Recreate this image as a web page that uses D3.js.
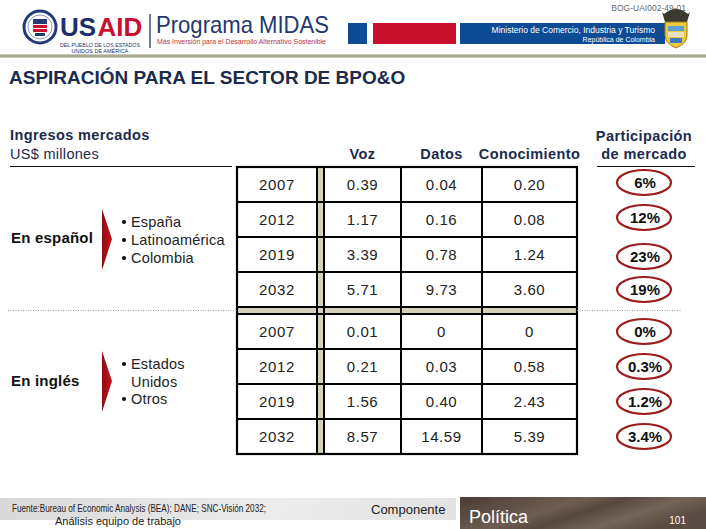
<!DOCTYPE html>
<html>
<head>
<meta charset="utf-8">
<script src="https://cdn.jsdelivr.net/npm/d3@7"></script>
<style>
  html, body { margin: 0; padding: 0; background: #ffffff; }
  svg { display: block; font-family: "Liberation Sans", Arial, sans-serif; }
</style>
</head>
<body>
<svg id="chart" width="706" height="529"></svg>
<script>
// ---------------- DATA ----------------
const years = ["2007", "2012", "2019", "2032"];
const columns = ["Voz", "Datos", "Conocimiento"];
const segments = ["En español", "En inglés"];

const vozEspanol = [0.39, 1.17, 3.39, 5.71];
const datosEspanol = [0.04, 0.16, 0.78, 9.73];
const conocimientoEspanol = [0.20, 0.08, 1.24, 3.60];
const shareEspanol = ["6%", "12%", "23%", "19%"];

const vozIngles = [0.01, 0.21, 1.56, 8.57];
const datosIngles = [0, 0.03, 0.40, 14.59];
const conocimientoIngles = [0, 0.58, 2.43, 5.39];
const shareIngles = ["0%", "0.3%", "1.2%", "3.4%"];

const marketsEspanol = ["España", "Latinoamérica", "Colombia"];
const marketsIngles = [["Estados", "Unidos"], ["Otros"]];

// ---------------- SETUP ----------------
const svg = d3.select("#chart");
const navy = "#1b2a4e";
const tan = "#d5d1b9";
const ring = "#9b1d1d";
const fmt = v => v === 0 ? "0" : d3.format(".2f")(v);

const defs = svg.append("defs");
const gArrow = defs.append("linearGradient").attr("id", "arrowGrad").attr("x1", 0).attr("x2", 1);
gArrow.append("stop").attr("offset", "0%").attr("stop-color", "#8e0c12");
gArrow.append("stop").attr("offset", "100%").attr("stop-color", "#c8151f");
const gFoot = defs.append("linearGradient").attr("id", "footGrad").attr("x1", 0).attr("x2", 1);
gFoot.append("stop").attr("offset", "0%").attr("stop-color", "#d9d9d9");
gFoot.append("stop").attr("offset", "60%").attr("stop-color", "#ececec");
gFoot.append("stop").attr("offset", "100%").attr("stop-color", "#e2e2e2");
const gPol = defs.append("linearGradient").attr("id", "polGrad").attr("x1", 0).attr("x2", 1).attr("y1", 0).attr("y2", 0.4);
[["0%", "#4a3d36"], ["25%", "#5e4f46"], ["45%", "#6d5d52"], ["60%", "#56483f"], ["80%", "#74655a"], ["100%", "#5a4c43"]]
  .forEach(([o, c]) => gPol.append("stop").attr("offset", o).attr("stop-color", c));
const gLine = defs.append("linearGradient").attr("id", "lineGrad").attr("x1", 0).attr("x2", 0).attr("y1", 0).attr("y2", 1);
gLine.append("stop").attr("offset", "0%").attr("stop-color", "#d8d6c6");
gLine.append("stop").attr("offset", "50%").attr("stop-color", "#9c9a86");
gLine.append("stop").attr("offset", "100%").attr("stop-color", "#d8d6c6");

// ---------------- HEADER ----------------
const hdr = svg.append("g");
// seal
hdr.append("circle").attr("cx", 40).attr("cy", 27).attr("r", 16).attr("fill", "#fff").attr("stroke", "#233a78").attr("stroke-width", 3);
hdr.append("circle").attr("cx", 40).attr("cy", 27).attr("r", 12).attr("fill", "none").attr("stroke", "#8c9bc0").attr("stroke-width", 1);
hdr.append("rect").attr("x", 33).attr("y", 19).attr("width", 14).attr("height", 5).attr("fill", "#233a78");
hdr.append("rect").attr("x", 33).attr("y", 25).attr("width", 14).attr("height", 3).attr("fill", "#c8102e");
hdr.append("rect").attr("x", 33).attr("y", 29).attr("width", 14).attr("height", 3).attr("fill", "#c8102e");
hdr.append("rect").attr("x", 35).attr("y", 33).attr("width", 10).attr("height", 3).attr("fill", "#233a78");
// USAID
hdr.append("text").attr("x", 60).attr("y", 35.5).attr("font-size", 26).attr("font-weight", "bold").attr("fill", "#1f2f6e").text("US");
hdr.append("text").attr("x", 97.5).attr("y", 35.5).attr("font-size", 26).attr("font-weight", "bold").attr("fill", "#c8102e").text("AID");
hdr.append("text").attr("x", 100).attr("y", 47).attr("text-anchor", "middle").attr("font-size", 5.5).attr("fill", "#1f2f6e")
  .attr("textLength", 80).attr("lengthAdjust", "spacingAndGlyphs").text("DEL PUEBLO DE LOS ESTADOS");
hdr.append("text").attr("x", 100).attr("y", 52.5).attr("text-anchor", "middle").attr("font-size", 5.5).attr("fill", "#1f2f6e")
  .text("UNIDOS DE AMÉRICA");
hdr.append("line").attr("x1", 150).attr("x2", 150).attr("y1", 14).attr("y2", 48).attr("stroke", "#1f2f6e").attr("stroke-width", 1.3);
hdr.append("text").attr("x", 156).attr("y", 33).attr("font-size", 24).attr("fill", "#23376e")
  .attr("textLength", 173).attr("lengthAdjust", "spacingAndGlyphs").text("Programa MIDAS");
hdr.append("text").attr("x", 157).attr("y", 44).attr("font-size", 6.5).attr("fill", "#c0313a")
  .attr("textLength", 169).attr("lengthAdjust", "spacingAndGlyphs").text("Más Inversión para el Desarrollo Alternativo Sostenible");
// colour bars
hdr.append("rect").attr("x", 348).attr("y", 23).attr("width", 19).attr("height", 21).attr("fill", "#0e4b95");
hdr.append("rect").attr("x", 373).attr("y", 23).attr("width", 83).attr("height", 21).attr("fill", "#c8102e");
hdr.append("rect").attr("x", 460).attr("y", 23).attr("width", 205).attr("height", 21).attr("fill", "#0e4b95");
hdr.append("text").attr("x", 655).attr("y", 33).attr("text-anchor", "end").attr("font-size", 8.5).attr("fill", "#fff")
  .text("Ministerio de Comercio, Industria y Turismo");
hdr.append("text").attr("x", 655).attr("y", 42).attr("text-anchor", "end").attr("font-size", 7).attr("fill", "#fff")
  .text("República de Colombia");
hdr.append("text").attr("x", 686).attr("y", 11).attr("text-anchor", "end").attr("font-size", 8.5).attr("fill", "#6a6a6a")
  .text("BOG-UAI002-49-01");
// coat of arms (simplified)
hdr.append("path").attr("d", "M664,14 Q676,4 688,14 L690,12 L687,22 L665,22 L662,12 Z").attr("fill", "#3a3a30");
hdr.append("path").attr("d", "M665,22 L687,22 L687,36 Q686,44 676,48 Q666,44 665,36 Z")
  .attr("fill", "#f0c838").attr("stroke", "#9a7a18").attr("stroke-width", 1);
hdr.append("rect").attr("x", 668).attr("y", 26).attr("width", 16).attr("height", 5).attr("fill", "#5aa0d8");
hdr.append("rect").attr("x", 668).attr("y", 32).attr("width", 16).attr("height", 5).attr("fill", "#e8e0c0");
hdr.append("rect").attr("x", 670).attr("y", 38).attr("width", 12).attr("height", 5).attr("fill", "#3b7ac0");
// header rule
svg.append("rect").attr("x", 0).attr("y", 54).attr("width", 706).attr("height", 4).attr("fill", "url(#lineGrad)");

// ---------------- TITLE ----------------
svg.append("text").attr("x", 9).attr("y", 84).attr("font-size", 19).attr("font-weight", "bold").attr("fill", navy)
  .text("ASPIRACIÓN PARA EL SECTOR DE BPO&O");

// ---------------- TABLE SCALES ----------------
const tableLeft = 237, tableRight = 577;
const colKeys = ["year"].concat(columns);
const colLeft = d3.scaleOrdinal().domain(colKeys).range([237, 324, 401, 482]);
const colRight = d3.scaleOrdinal().domain(colKeys).range([317, 401, 482, 577]);
const colCenter = k => (colLeft(k) + colRight(k)) / 2;

const sectionRange = d3.scaleOrdinal().domain(segments).range([[167, 307], [314, 454]]);
const rowScale = seg => d3.scaleBand().domain(years).range(sectionRange(seg)).padding(0);

const sections = [
  { seg: "En español", cols: { Voz: vozEspanol, Datos: datosEspanol, Conocimiento: conocimientoEspanol }, share: shareEspanol },
  { seg: "En inglés", cols: { Voz: vozIngles, Datos: datosIngles, Conocimiento: conocimientoIngles }, share: shareIngles }
];

// ---------------- COLUMN HEADERS ----------------
const hdrText = svg.append("g").attr("font-size", 14.5).attr("font-weight", "bold").attr("fill", navy)
  .attr("letter-spacing", 0.4);
hdrText.append("text").attr("x", 10).attr("y", 140).text("Ingresos mercados");
svg.append("text").attr("x", 10).attr("y", 159).attr("font-size", 14.5).attr("fill", navy).attr("letter-spacing", 0.3).text("US$ millones");
columns.forEach(c => {
  hdrText.append("text").attr("x", colCenter(c)).attr("y", 159).attr("text-anchor", "middle").text(c);
});
hdrText.append("text").attr("x", 644).attr("y", 141).attr("text-anchor", "middle").text("Participación");
hdrText.append("text").attr("x", 644).attr("y", 159).attr("text-anchor", "middle").text("de mercado");
svg.append("line").attr("x1", 10).attr("x2", 232).attr("y1", 166.5).attr("y2", 166.5).attr("stroke", "#111").attr("stroke-width", 1.2);
svg.append("line").attr("x1", 597).attr("x2", 695).attr("y1", 166.5).attr("y2", 166.5).attr("stroke", "#111").attr("stroke-width", 1.2);

// ---------------- TABLE ----------------
const tbl = svg.append("g");
// tan bands
tbl.append("rect").attr("x", colRight("year")).attr("y", 167).attr("width", colLeft("Voz") - colRight("year")).attr("height", 454 - 167).attr("fill", tan);
tbl.append("rect").attr("x", tableLeft).attr("y", sectionRange("En español")[1]).attr("width", tableRight - tableLeft)
  .attr("height", sectionRange("En inglés")[0] - sectionRange("En español")[1]).attr("fill", tan);

const lines = tbl.append("g").attr("stroke", "#000").attr("stroke-width", 1.2).attr("shape-rendering", "crispEdges");
// vertical lines
[colRight("year"), colLeft("Voz"), colLeft("Datos"), colLeft("Conocimiento")].forEach(x => {
  lines.append("line").attr("x1", x).attr("x2", x).attr("y1", 167).attr("y2", 454);
});
// horizontal lines within sections
sections.forEach(s => {
  const y = rowScale(s.seg);
  years.forEach(yr => {
    lines.append("line").attr("x1", tableLeft).attr("x2", tableRight).attr("y1", y(yr)).attr("y2", y(yr));
  });
  const yEnd = y(years[years.length - 1]) + y.bandwidth();
  lines.append("line").attr("x1", tableLeft).attr("x2", tableRight).attr("y1", yEnd).attr("y2", yEnd);
});
// outer border
tbl.append("rect").attr("x", tableLeft).attr("y", 167).attr("width", tableRight - tableLeft).attr("height", 454 - 167)
  .attr("fill", "none").attr("stroke", "#000").attr("stroke-width", 2.2);

// cell texts
const cells = svg.append("g").attr("font-size", 15).attr("fill", "#222").attr("text-anchor", "middle").attr("letter-spacing", 0.6);
sections.forEach(s => {
  const y = rowScale(s.seg);
  years.forEach((yr, i) => {
    const cy = y(yr) + y.bandwidth() / 2 + 5.5;
    cells.append("text").attr("x", colCenter("year")).attr("y", cy).text(yr);
    columns.forEach(c => {
      cells.append("text").attr("x", colCenter(c)).attr("y", cy).text(fmt(s.cols[c][i]));
    });
  });
});

// ---------------- MARKET SHARE ELLIPSES ----------------
const shareOffsets = { "En español": [-2, -2, 2, 0], "En inglés": [0, 0, 0, 0] };
const shares = svg.append("g");
sections.forEach(s => {
  const y = rowScale(s.seg);
  years.forEach((yr, i) => {
    const cy = y(yr) + y.bandwidth() / 2 + shareOffsets[s.seg][i];
    shares.append("ellipse").attr("cx", 644).attr("cy", cy).attr("rx", 27).attr("ry", 12.5)
      .attr("fill", "#fff").attr("stroke", ring).attr("stroke-width", 2.2);
    shares.append("text").attr("x", 645).attr("y", cy + 5.5).attr("text-anchor", "middle")
      .attr("font-size", 15).attr("font-weight", "bold").attr("fill", "#111").text(s.share[i]);
  });
});

// ---------------- SEPARATOR ----------------
svg.append("line").attr("x1", 8).attr("x2", tableLeft).attr("y1", 310.5).attr("y2", 310.5)
  .attr("stroke", "#9a9a9a").attr("stroke-width", 1).attr("stroke-dasharray", "1,1.5");
svg.append("line").attr("x1", tableRight).attr("x2", 682).attr("y1", 310.5).attr("y2", 310.5)
  .attr("stroke", "#9a9a9a").attr("stroke-width", 1).attr("stroke-dasharray", "1,1.5");

// ---------------- LEFT LABELS ----------------
const labelY = { "En español": 243, "En inglés": 386 };
const arrowTop = { "En español": 209, "En inglés": 351 };
segments.forEach(seg => {
  svg.append("text").attr("x", 11).attr("y", labelY[seg]).attr("font-size", 15).attr("font-weight", "bold")
    .attr("fill", "#111").attr("letter-spacing", 0.2).text(seg);
  const t = arrowTop[seg];
  svg.append("path").attr("d", `M102,${t} L112,${t + 30} L102,${t + 61} Z`).attr("fill", "url(#arrowGrad)");
});

const bullets = svg.append("g").attr("font-size", 14.5).attr("fill", "#222").attr("letter-spacing", 0.2);
const espY = [227, 245, 263];
marketsEspanol.forEach((m, i) => {
  bullets.append("circle").attr("cx", 124).attr("cy", espY[i] - 5).attr("r", 2.1).attr("fill", "#111");
  bullets.append("text").attr("x", 131).attr("y", espY[i]).text(m);
});
let yy = 369;
marketsIngles.forEach(lines2 => {
  bullets.append("circle").attr("cx", 124).attr("cy", yy - 5).attr("r", 2.1).attr("fill", "#111");
  lines2.forEach(l => {
    bullets.append("text").attr("x", 131).attr("y", yy).text(l);
    yy += 17.5;
  });
});

// ---------------- FOOTER ----------------
svg.append("rect").attr("x", 0).attr("y", 498).attr("width", 456).attr("height", 22).attr("fill", "url(#footGrad)");
svg.append("text").attr("x", 12).attr("y", 512).attr("font-size", 11).attr("fill", "#222")
  .attr("textLength", 254).attr("lengthAdjust", "spacingAndGlyphs")
  .text("Fuente:Bureau of Economic Analysis (BEA); DANE; SNC-Visión 2032;");
svg.append("text").attr("x", 55).attr("y", 525).attr("font-size", 11).attr("fill", "#222")
  .attr("textLength", 126).attr("lengthAdjust", "spacingAndGlyphs").text("Análisis equipo de trabajo");
svg.append("text").attr("x", 371).attr("y", 514).attr("font-size", 13).attr("fill", "#222").text("Componente");
svg.append("rect").attr("x", 460).attr("y", 497).attr("width", 246).attr("height", 32).attr("fill", "url(#polGrad)");
svg.append("text").attr("x", 469).attr("y", 523).attr("font-size", 18).attr("fill", "#fff").text("Política");
svg.append("text").attr("x", 686).attr("y", 524).attr("text-anchor", "end").attr("font-size", 10).attr("fill", "#fff").text("101");
</script>
</body>
</html>
